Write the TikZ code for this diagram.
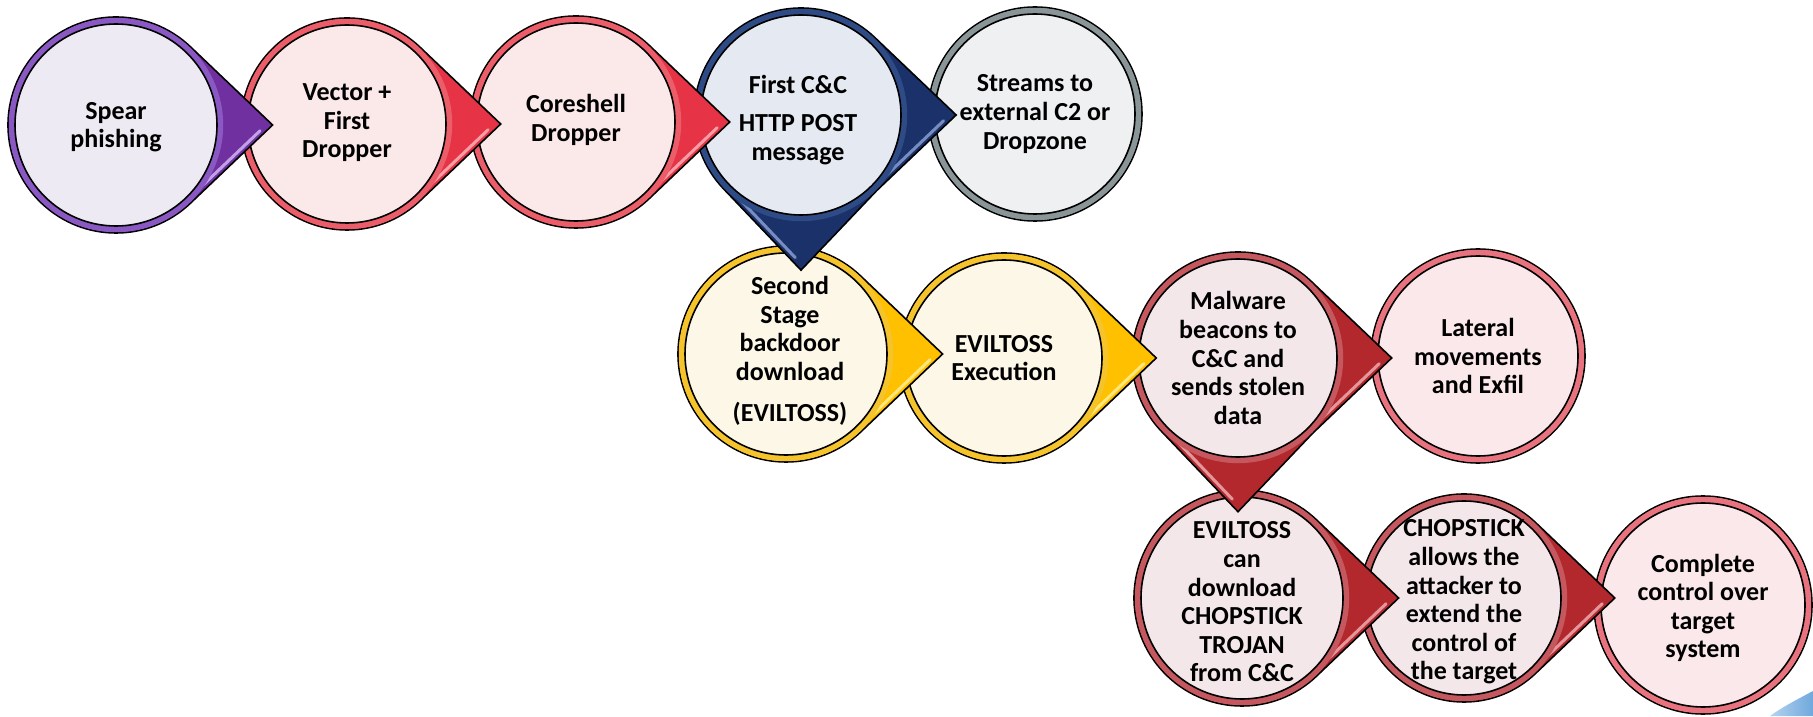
\documentclass[tikz,border=0pt]{standalone}
\usepackage{fontspec}
\setmainfont{Carlito}
\usetikzlibrary{calc}

% palette
\definecolor{purpleTip}{HTML}{7030A0}
\definecolor{purpleRing}{HTML}{8A58C2}
\definecolor{purpleFill}{HTML}{EEEAF4}
\definecolor{purpleHi}{HTML}{C9AEF0}
\definecolor{redTip}{HTML}{E63345}
\definecolor{redRing}{HTML}{EC5D6A}
\definecolor{redFill}{HTML}{FBE9EA}
\definecolor{redHi}{HTML}{F8A9B0}
\definecolor{navyTip}{HTML}{1A316A}
\definecolor{navyRing}{HTML}{2F4B86}
\definecolor{navyFill}{HTML}{E5E9F1}
\definecolor{navyHi}{HTML}{8298CB}
\definecolor{greyRing}{HTML}{8A9597}
\definecolor{greyFill}{HTML}{EEF0F2}
\definecolor{goldTip}{HTML}{FFC000}
\definecolor{goldRing}{HTML}{F5C32C}
\definecolor{goldFill}{HTML}{FDF7E7}
\definecolor{goldHi}{HTML}{FFEC8C}
\definecolor{wineTip}{HTML}{B3282D}
\definecolor{wineRing}{HTML}{C5585E}
\definecolor{wineFill}{HTML}{F4E7E9}
\definecolor{wineHi}{HTML}{EBA3A7}
\definecolor{pinkRing}{HTML}{E8737E}
\definecolor{pinkFill}{HTML}{FBE8EA}
\definecolor{swooshA}{HTML}{B5D3F0}
\definecolor{swooshB}{HTML}{6FA8DC}

\tikzset{
  x=1pt, y=1pt,
  outline/.style={draw=black, line width=1.6pt},
  hilite/.style={line width=3pt, line cap=round, opacity=0.9},
  steptext/.style={font=\bfseries\fontsize{26}{28.6}\selectfont,
    align=center, text=black, inner sep=0pt},
}

% ring and inner disc of a bubble: #1 centre, #2 radius, #3 ring, #4 fill
\newcommand\bubbledisc[4]{%
  \fill[#3] (#1) circle[radius=#2-0.8];
  \fill[#4, outline] (#1) circle[radius=#2-7];
}

% highlight along the edge of a pointer aimed at angle #3
% #1 centre, #2 radius, #3 angle, #4 colour
\newcommand\tiphilite[4]{%
  \pgfmathsetmacro\hiA{#3-46.4}%
  \pgfmathsetmacro\hiD{#3+43.6}%
  \pgfmathsetmacro\hiN{#3+133.6}%
  \pgfmathsetmacro\hiT{1.45*#2}%
  \draw[#4, hilite] ($(#1)+(\hiA:#2)+(\hiN:4.5)$) --
    ($(#1)+(#3:\hiT)+(\hiD:-13)+(\hiN:4.5)$);
}

% bubble without pointer
\newcommand\plainbubble[4]{%
  \fill[#3, outline] (#1) circle[radius=#2];
  \bubbledisc{#1}{#2}{#3}{#4}%
}

% bubble with one pointer to the right
% #1 centre, #2 radius, #3 ring, #4 tip, #5 fill, #6 highlight
\newcommand\rightbubble[6]{%
  \pgfmathsetmacro\bubT{1.45*#2}%
  \fill[#4, outline] ($(#1)+(46.4:#2)$)
    arc[start angle=46.4, end angle=313.6, radius=#2]
    -- ($(#1)+(0:\bubT)$) -- cycle;
  \tiphilite{#1}{#2}{0}{#6}%
  \bubbledisc{#1}{#2}{#3}{#5}%
}

% bubble with pointers to the right and downwards
\newcommand\cornerbubble[6]{%
  \pgfmathsetmacro\bubT{1.45*#2}%
  \fill[#4, outline] ($(#1)+(46.4:#2)$)
    arc[start angle=46.4, end angle=223.6, radius=#2]
    -- ($(#1)+(270:\bubT)$) -- ($(#1)+(315:#2)$)
    -- ($(#1)+(0:\bubT)$) -- cycle;
  \tiphilite{#1}{#2}{0}{#6}%
  \tiphilite{#1}{#2}{270}{#6}%
  \bubbledisc{#1}{#2}{#3}{#5}%
}

\begin{document}
\begin{tikzpicture}
\useasboundingbox (0,0) rectangle (1813,716);

% bubble centres
\coordinate (spear)    at (116,591);
\coordinate (vector)   at (347,592);
\coordinate (coreshell)at (576,594);
\coordinate (firstcc)  at (801,601);
\coordinate (streams)  at (1035,602);
\coordinate (second)   at (786,362);
\coordinate (exec)     at (1004,358);
\coordinate (beacons)  at (1238,358);
\coordinate (lateral)  at (1478,360);
\coordinate (chopdl)   at (1242,118);
\coordinate (chopext)  at (1464,118);
\coordinate (complete) at (1703,111);

% corner swoosh
\shade[left color=swooshA, right color=swooshB]
  (1770,0) .. controls (1784,10) and (1798,17) .. (1813,25) -- (1813,0) -- cycle;

% bubbles, last step first so each pointer sits over the next bubble
\plainbubble{complete}{109}{pinkRing}{pinkFill}
\rightbubble{chopext}{104}{wineRing}{wineTip}{wineFill}{wineHi}
\rightbubble{chopdl}{108}{wineRing}{wineTip}{wineFill}{wineHi}
\plainbubble{lateral}{107}{pinkRing}{pinkFill}
\cornerbubble{beacons}{106}{wineRing}{wineTip}{wineFill}{wineHi}
\rightbubble{exec}{105}{goldRing}{goldTip}{goldFill}{goldHi}
\rightbubble{second}{108}{goldRing}{goldTip}{goldFill}{goldHi}
\plainbubble{streams}{107}{greyRing}{greyFill}
\cornerbubble{firstcc}{107}{navyRing}{navyTip}{navyFill}{navyHi}
\rightbubble{coreshell}{106}{redRing}{redTip}{redFill}{redHi}
\rightbubble{vector}{106}{redRing}{redTip}{redFill}{redHi}
\rightbubble{spear}{108}{purpleRing}{purpleTip}{purpleFill}{purpleHi}

% labels
\node[steptext] (tSpear)    at ($(spear)+(0,-2)$) {Spear\\phishing};
\node[steptext] (tVector)   at ($(vector)+(0,1)$) {Vector +\\First\\Dropper};
\node[steptext] (tCore)     at ($(coreshell)+(0,2)$) {Coreshell\\Dropper};
\node[steptext] (tFirst)    at ($(firstcc)+(-3,-5)$) {First C\&C\\[10pt]HTTP POST\\message};
\node[steptext] (tStreams)  at (streams) {Streams to\\external C2 or\\Dropzone};
\node[steptext] (tSecond)   at ($(second)+(4,3)$) {Second\\Stage\\backdoor\\download\\[13pt](EVILTOSS)};
\node[steptext] (tExec)     at (exec) {EVILTOSS\\Execution};
\node[steptext] (tBeacons)  at (beacons) {Malware\\beacons to\\C\&C and\\sends stolen\\data};
\node[steptext] (tLateral)  at (lateral) {Lateral\\movements\\and Exfil};
\node[steptext] (tChopDl)   at ($(chopdl)+(0,-4)$) {EVILTOSS\\can\\download\\CHOPSTICK\\TROJAN\\from C\&C};
\node[steptext] (tChopExt)  at ($(chopext)+(0,-4)$) {CHOPSTICK\\allows the\\attacker to\\extend the\\control of\\the target};
\node[steptext] (tComplete) at ($(complete)+(0,-3)$) {Complete\\control over\\target\\system};
\end{tikzpicture}
\end{document}
